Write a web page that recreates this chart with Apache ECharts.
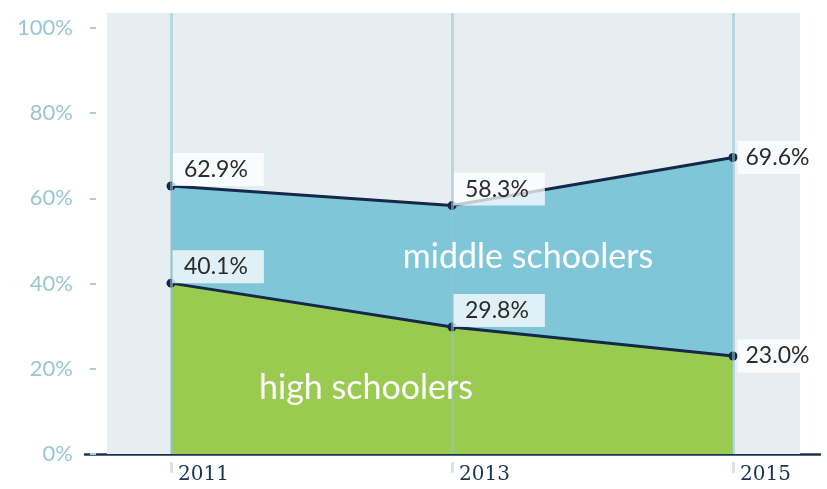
<!DOCTYPE html>
<html>
<head>
<meta charset="utf-8">
<script src="https://cdn.jsdelivr.net/npm/echarts@6/dist/echarts.min.js"></script>
<style>
  html, body { margin: 0; padding: 0; background: #fff; }
  #chart { width: 827px; height: 489px; }
</style>
</head>
<body>
<div id="chart"></div>
<script>
// data
const years = [2011, 2013, 2015];
const middleSchoolers = [62.9, 58.3, 69.6];
const highSchoolers = [40.1, 29.8, 23.0];
const yTicks = [0, 20, 40, 60, 80, 100];

const chart = echarts.init(document.getElementById('chart'));

const navy = '#14294a';
const font = 'Lato, "Noto Sans", sans-serif';

function pairs(vals) {
  return vals.map((v, i) => [years[i], v]);
}

// labels: above-right of point for first two, right for the last one
function labelled(vals) {
  return vals.map((v, i) => {
    const item = { value: [years[i], v] };
    if (i === vals.length - 1) {
      item.label = { position: 'right', distance: 0, padding: [5, 14, 5, 8] };
    } else {
      item.label = { position: [5.5, -28.5] };
    }
    return item;
  });
}

const lineSeries = (name, vals) => ({
  name: name,
  type: 'line',
  z: 4,
  data: labelled(vals),
  symbol: 'circle',
  symbolSize: 9,
  itemStyle: { color: navy },
  lineStyle: { color: navy, width: 3 },
  label: {
    show: true,
    formatter: p => p.value[1].toFixed(1) + '%',
    color: '#2b2b2b',
    fontSize: 23,
    fontFamily: font,
    backgroundColor: 'rgba(255,255,255,0.75)',
    padding: [5, 16, 5, 12]
  },
  animation: false
});

const areaSeries = (name, vals, color) => ({
  name: name,
  type: 'line',
  z: 1,
  data: pairs(vals),
  symbol: 'none',
  lineStyle: { width: 0 },
  areaStyle: { color: color, opacity: 1 },
  silent: true,
  animation: false
});

const xMin = 2010.388, xMax = 2015.619;

const option = {
  animation: false,
  grid: { left: 85, right: 7, top: 13, bottom: 35 },
  xAxis: [{
    type: 'value',
    min: xMin,
    max: xMax,
    axisLine: { show: true, lineStyle: { color: '#1b3454', width: 2.5 } },
    axisTick: { show: false },
    splitLine: { show: false },
    axisLabel: {
      customValues: years,
      formatter: v => String(v),
      align: 'left',
      padding: [0, 0, 0, 7],
      margin: 11,
      color: '#183550',
      fontSize: 20,
      fontFamily: '"DejaVu Serif", serif'
    }
  }, {
    type: 'value',
    position: 'bottom',
    offset: 8,
    min: xMin,
    max: xMax,
    axisLine: { show: false },
    splitLine: { show: false },
    axisLabel: { show: false },
    axisTick: {
      show: true,
      customValues: years,
      length: 11,
      lineStyle: { color: '#d6e5ea', width: 3 }
    }
  }],
  yAxis: {
    type: 'value',
    min: 0,
    max: 103.5,
    offset: -11,
    axisLine: { show: false },
    splitLine: { show: false },
    axisTick: {
      show: true,
      customValues: yTicks,
      length: 6,
      lineStyle: { color: '#a9cfd8', width: 2 }
    },
    axisLabel: {
      customValues: yTicks,
      formatter: v => v + '%',
      margin: 23,
      padding: [0, 0, 5, 0],
      color: '#98c7d2',
      fontSize: 22,
      fontFamily: font
    }
  },
  series: [
    {
      type: 'line',
      z: 0,
      data: [],
      markArea: {
        silent: true,
        itemStyle: { color: '#e6eef1' },
        data: [[{ coord: [2010.544, 0] }, { coord: [2015.477, 103.5] }]]
      }
    },
    areaSeries('middle schoolers area', middleSchoolers, '#80c6d9'),
    areaSeries('high schoolers area', highSchoolers, '#9bca50'),
    {
      type: 'line',
      z: 2,
      data: [],
      markLine: {
        silent: true,
        symbol: 'none',
        label: { show: false },
        lineStyle: { color: 'rgba(150,195,205,0.55)', width: 3, type: 'solid' },
        data: years.map(y => ({ xAxis: y }))
      }
    },
    lineSeries('middle schoolers', middleSchoolers),
    lineSeries('high schoolers', highSchoolers)
  ],
  graphic: [
    {
      type: 'text', x: 528, y: 257, z: 10,
      style: { text: 'middle schoolers', fill: '#fff', font: '34px ' + font, textAlign: 'center', textVerticalAlign: 'middle' }
    },
    {
      type: 'text', x: 366, y: 388, z: 10,
      style: { text: 'high schoolers', fill: '#fff', font: '34px ' + font, textAlign: 'center', textVerticalAlign: 'middle' }
    }
  ]
};

chart.setOption(option);
</script>
</body>
</html>
